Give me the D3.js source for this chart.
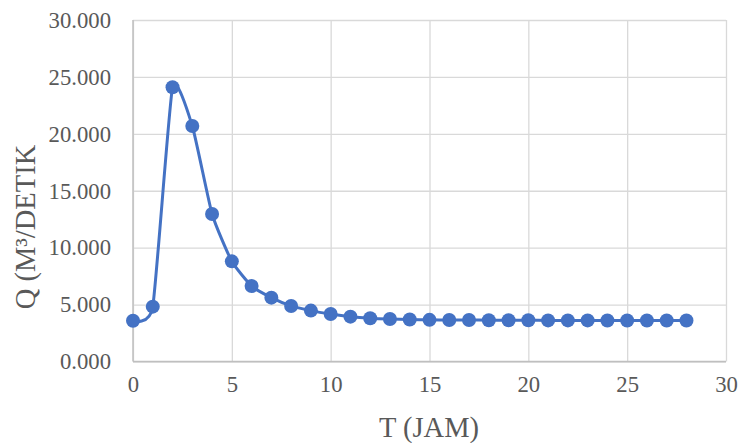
<!DOCTYPE html>
<html>
<head>
<meta charset="utf-8">
<script src="https://cdn.jsdelivr.net/npm/d3@7"></script>
<style>
	body { margin: 0; background: #fff; }
	svg { display: block; font-family: "Liberation Serif", "Times New Roman", serif; }
</style>
</head>
<body>
<svg id="chart" width="741" height="443"></svg>
<script>
// hydrograph data
const hours = [0, 1, 2, 3, 4, 5, 6, 7, 8, 9, 10, 11, 12, 13, 14, 15, 16, 17, 18, 19, 20, 21, 22, 23, 24, 25, 26, 27, 28];
const discharge = [3.58, 4.82, 24.09, 20.69, 12.96, 8.80, 6.63, 5.61, 4.88, 4.47, 4.17, 3.94, 3.80, 3.73, 3.69, 3.66, 3.65, 3.64, 3.63, 3.62, 3.62, 3.61, 3.61, 3.61, 3.60, 3.60, 3.60, 3.60, 3.60];
const xTicks = [0, 5, 10, 15, 20, 25, 30];
const yTicks = [0, 5, 10, 15, 20, 25, 30];
const xTitle = 'T (JAM)';
const yTitle = 'Q (M³/DETIK';

const plotLeft = 133, plotRight = 726, plotTop = 20, plotBottom = 361.5;
const color = '#4472C4';
const grid = '#d9d9d9';
const textColor = '#595959';

const svg = d3.select('#chart');

const x = d3.scaleLinear().domain([0, 30]).range([plotLeft, plotRight]);
const y = d3.scaleLinear().domain([0, 30]).range([plotBottom, plotTop]);

// gridlines
svg.append('g')
	.attr('transform', `translate(0,${plotBottom})`)
	.call(d3.axisBottom(x).tickValues(xTicks).tickSize(-(plotBottom - plotTop)).tickFormat(''))
	.call(g => g.select('.domain').remove())
	.selectAll('line').attr('stroke', grid).attr('stroke-width', 1.3);

svg.append('g')
	.attr('transform', `translate(${plotLeft},0)`)
	.call(d3.axisLeft(y).tickValues(yTicks).tickSize(-(plotRight - plotLeft)).tickFormat(''))
	.call(g => g.select('.domain').remove())
	.selectAll('line').attr('stroke', grid).attr('stroke-width', 1.3);

// axis lines
svg.append('line').attr('x1', plotLeft).attr('x2', plotRight).attr('y1', plotBottom).attr('y2', plotBottom)
	.attr('stroke', '#bfbfbf').attr('stroke-width', 1.5);
svg.append('line').attr('x1', plotLeft).attr('x2', plotLeft).attr('y1', plotTop).attr('y2', plotBottom)
	.attr('stroke', '#bfbfbf').attr('stroke-width', 1.5);

// tick labels
const xAxis = svg.append('g')
	.attr('transform', `translate(0,${plotBottom})`)
	.call(d3.axisBottom(x).tickValues(xTicks).tickSize(0).tickPadding(14).tickFormat(d3.format('d')));
xAxis.select('.domain').remove();
xAxis.selectAll('text')
	.attr('font-family', '"Liberation Serif", serif')
	.attr('font-size', '22.7px')
	.attr('fill', textColor);

const yAxis = svg.append('g')
	.attr('transform', `translate(${plotLeft},0)`)
	.call(d3.axisLeft(y).tickValues(yTicks).tickSize(0).tickPadding(22).tickFormat(d3.format('.3f')));
yAxis.select('.domain').remove();
yAxis.selectAll('text')
	.attr('font-family', '"Liberation Serif", serif')
	.attr('font-size', '22.7px')
	.attr('fill', textColor);

// axis titles
svg.append('text')
	.attr('x', (plotLeft + plotRight) / 2 - 0.5)
	.attr('y', 437)
	.attr('text-anchor', 'middle')
	.attr('font-size', '28.5px')
	.attr('fill', textColor)
	.text(xTitle);

svg.append('text')
	.attr('transform', 'translate(35,227) rotate(-90)')
	.attr('text-anchor', 'middle')
	.attr('font-size', '28.5px')
	.attr('fill', textColor)
	.text(yTitle);

// series
const data = hours.map((t, i) => [t, discharge[i]]);
const line = d3.line()
	.x(d => x(d[0]))
	.y(d => y(d[1]))
	.curve(d3.curveCardinal.tension(0.5));

svg.append('path')
	.datum(data)
	.attr('fill', 'none')
	.attr('stroke', color)
	.attr('stroke-width', 3)
	.attr('stroke-linejoin', 'round')
	.attr('d', line);

svg.selectAll('circle')
	.data(data)
	.enter()
	.append('circle')
	.attr('cx', d => x(d[0]))
	.attr('cy', d => y(d[1]))
	.attr('r', 7)
	.attr('fill', color);
</script>
</body>
</html>
